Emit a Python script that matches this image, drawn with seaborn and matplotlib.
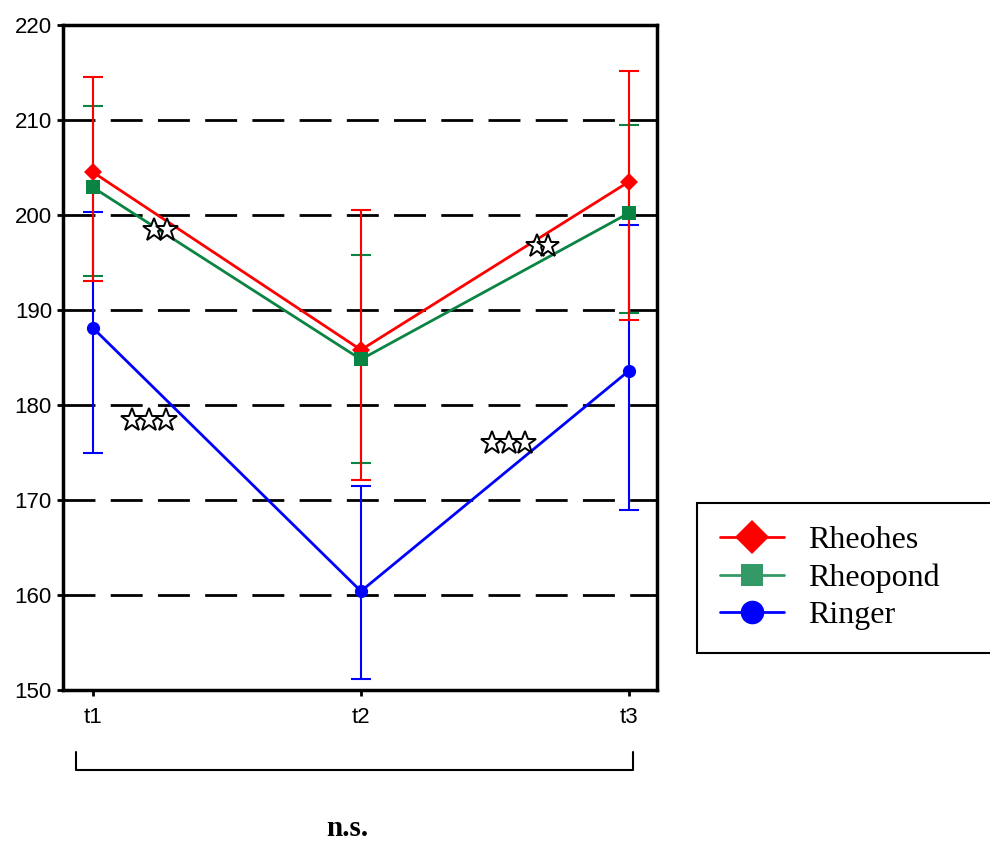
import numpy as np
import pandas as pd
import matplotlib
matplotlib.use("Agg")
import matplotlib.pyplot as plt
import matplotlib.transforms as mtransforms
from matplotlib.lines import Line2D
import seaborn as sns

# ---- data -------------------------------------------------------------
timepoints = ["t1", "t2", "t3"]
groups = ["Rheohes", "Rheopond", "Ringer"]

rheohes_mean = [204.5, 185.8, 203.5]
rheohes_low = [193.1, 172.1, 188.9]
rheohes_high = [214.5, 200.5, 215.2]

rheopond_mean = [202.9, 184.8, 200.2]
rheopond_low = [193.6, 173.9, 189.7]
rheopond_high = [211.5, 195.8, 209.5]

ringer_mean = [188.1, 160.4, 183.6]
ringer_low = [174.9, 151.2, 169.0]
ringer_high = [200.3, 171.5, 199.0]

y_ticks = [150, 160, 170, 180, 190, 200, 210, 220]

means = {"Rheohes": rheohes_mean, "Rheopond": rheopond_mean, "Ringer": ringer_mean}
lows = {"Rheohes": rheohes_low, "Rheopond": rheopond_low, "Ringer": ringer_low}
highs = {"Rheohes": rheohes_high, "Rheopond": rheopond_high, "Ringer": ringer_high}

line_colors = {"Rheohes": "#FF0000", "Rheopond": "#0A8442", "Ringer": "#0000FF"}
legend_colors = {"Rheohes": "#FF0000", "Rheopond": "#339966", "Ringer": "#0000FF"}
markers = {"Rheohes": "D", "Rheopond": "s", "Ringer": "o"}

df = pd.DataFrame(
    [
        {"group": g, "pos": i, "value": means[g][i]}
        for g in groups
        for i in range(len(timepoints))
    ]
)

# ---- figure -----------------------------------------------------------
sns.set_style("ticks")
plt.rcParams["font.family"] = ["Liberation Sans", "DejaVu Sans"]
plt.rcParams["text.color"] = "black"
plt.rcParams["xtick.color"] = "black"
plt.rcParams["ytick.color"] = "black"

fig = plt.figure(figsize=(9.9, 8.41), dpi=100)
ax = fig.add_axes([63 / 990, 1 - 690 / 841, 594 / 990, 665 / 841])

# dashed horizontal reference lines
for yv in y_ticks[1:-1]:
    ax.axhline(yv, color="black", lw=2.0, ls=(0, (11.5, 5.5)), zorder=1)

# error bars, drawn so that Rheohes sits on top
for g in ["Ringer", "Rheopond", "Rheohes"]:
    m = np.array(means[g])
    err = [m - np.array(lows[g]), np.array(highs[g]) - m]
    ax.errorbar(
        range(len(timepoints)), m, yerr=err, fmt="none",
        ecolor=line_colors[g], elinewidth=1.5, capsize=7.5, capthick=1.5,
        zorder=2,
    )

sns.lineplot(
    data=df, x="pos", y="value", hue="group", style="group",
    hue_order=groups, style_order=groups,
    palette=line_colors, markers=markers, dashes=False,
    markersize=9.5, markeredgewidth=0, linewidth=2.0,
    legend=False, ax=ax, zorder=3,
)

ax.set_xlim(-0.112, 2.105)
ax.set_ylim(150, 220)
ax.set_yticks(y_ticks)
ax.set_xticks(range(len(timepoints)))
ax.set_xticklabels(timepoints)
ax.set_xlabel("")
ax.set_ylabel("")
ax.tick_params(axis="both", labelsize=16, length=4, width=2, color="black",
               labelcolor="black", direction="out", pad=4)
ax.tick_params(axis="x", pad=8)
for s in ax.spines.values():
    s.set_color("black")
    s.set_linewidth(2.5)

# significance stars (open five-pointed stars)
star_groups = [(0.252, 198.4, 2, 0.048), (0.209, 178.4, 3, 0.062),
               (1.677, 196.7, 2, 0.042), (1.552, 176.0, 3, 0.062)]
for cx, cy, n, step in star_groups:
    xs = [cx + (k - (n - 1) / 2) * step for k in range(n)]
    ax.plot(xs, [cy] * n, ls="none", marker="*", ms=17, mfc="white",
            mec="black", mew=1.4, zorder=4)

# bracket under the time axis with "n.s."
trans = mtransforms.blended_transform_factory(ax.transData, ax.transAxes)
yb_top = (690 - 752) / 665
yb_bot = (690 - 770) / 665
ax.plot([-0.063, -0.063, 2.015, 2.015], [yb_top, yb_bot, yb_bot, yb_top],
        color="black", lw=1.5, transform=trans, clip_on=False)
fig.text(347 / 990, 1 - 829 / 841, "n.s.", ha="center", va="center",
         fontsize=21, fontweight="bold", family=["Liberation Serif"])

# legend
handles = [
    Line2D([], [], color=legend_colors["Rheohes"], marker="D", ms=17, lw=2, mew=0),
    Line2D([], [], color=legend_colors["Rheopond"], marker="s", ms=16, lw=2, mew=0),
    Line2D([], [], color=legend_colors["Ringer"], marker="o", ms=17, lw=2, mew=0),
]
leg = fig.legend(
    handles, groups, loc="upper left",
    bbox_to_anchor=(697 / 990, 1 - 503 / 841, 0.32, 0.0), mode="expand",
    frameon=True, fancybox=False, edgecolor="black", framealpha=1,
    prop={"family": "Liberation Serif", "size": 23},
    handlelength=2.0, handletextpad=0.75, labelspacing=0.25,
    borderpad=0.72, borderaxespad=0,
)
leg.get_frame().set_linewidth(1.5)

fig.savefig("out.png", dpi=100)
